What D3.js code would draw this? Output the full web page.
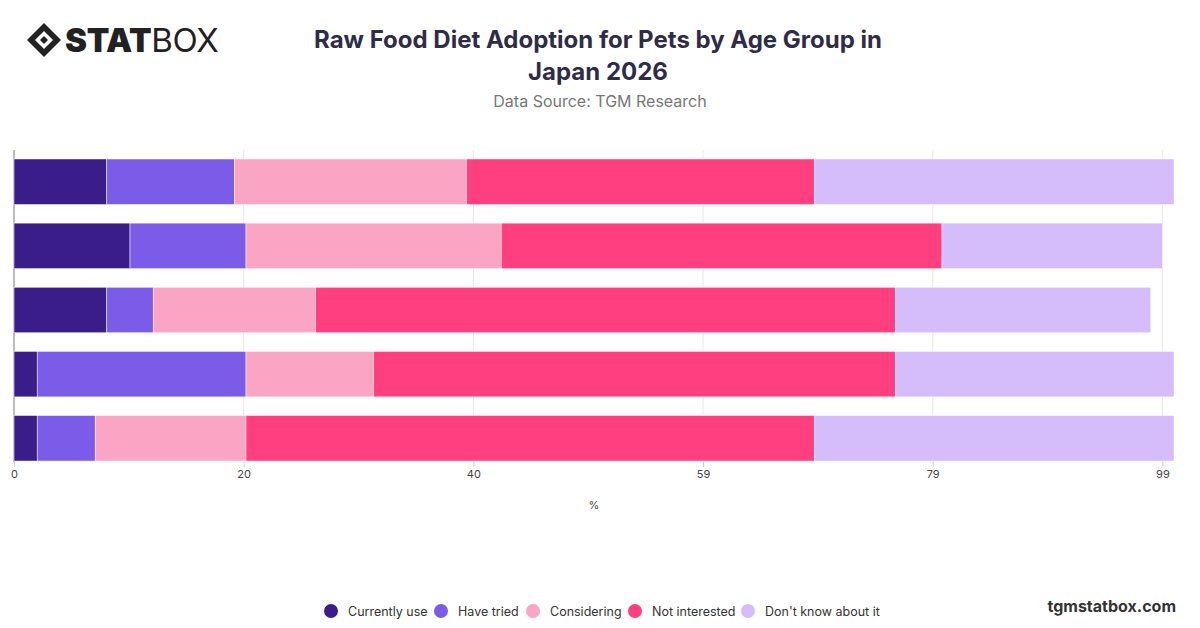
<!DOCTYPE html>
<html><head><meta charset="utf-8">
<script src="https://cdn.jsdelivr.net/npm/d3@7"></script>
<style>body{margin:0;background:#fff;font-family:Inter,"Noto Sans",sans-serif}</style>
</head><body><svg id="c" width="1200" height="628"></svg>
<script>
const categories = ["18-24","25-34","35-44","45-54","55+"];
const seriesNames = ["Currently use","Have tried","Considering","Not interested","Don't know about it"];
const currentlyUse   = [8,10,8,2,2];
const haveTried      = [11,10,4,18,5];
const considering    = [20,22,14,11,13];
const notInterested  = [30,38,50,45,49];
const dontKnow       = [31,19,22,24,31];
const tickValues = [0,19.8,39.6,59.4,79.2,99];
const colors = ["#3b1d8a","#7b5ce9","#fba5c5","#ff3f80","#d5bcfb"];

const svg = d3.select("#c");
const rows = categories.map((c,i)=>({cat:c,v:[currentlyUse[i],haveTried[i],considering[i],notInterested[i],dontKnow[i]]}));
const x = d3.scaleLinear().domain([0,100]).range([14,1174]);
const y = d3.scaleBand().domain(categories).range([150,470]).paddingInner(0.29).paddingOuter(0.14);

svg.append("g").selectAll("line").data(tickValues).join("line")
  .attr("x1",d=>x(d)).attr("x2",d=>x(d)).attr("y1",150).attr("y2",462)
  .attr("stroke","#e6e6e6");
svg.append("line").attr("x1",14).attr("x2",14).attr("y1",150).attr("y2",462).attr("stroke","#888");

rows.forEach(r=>{
  let acc=0;
  r.v.forEach((v,j)=>{
    svg.append("rect").attr("x",x(acc)).attr("width",x(acc+v)-x(acc))
      .attr("y",y(r.cat)).attr("height",y.bandwidth()).attr("fill",colors[j])
      .attr("stroke","#fff").attr("stroke-width",0.5);
    acc+=v;
  });
});

const ax = svg.append("g").attr("transform","translate(0,462)")
  .call(d3.axisBottom(x).tickValues(tickValues).tickFormat(d=>Math.round(d)).tickSize(5));
ax.select(".domain").remove();
ax.selectAll("line").attr("stroke","#ccc");
ax.selectAll("text").attr("fill","#444").attr("font-size",11).attr("font-family","Inter, sans-serif");
svg.append("text").attr("x",594).attr("y",509).attr("text-anchor","middle").attr("font-size",11).attr("fill","#444").text("%");

svg.append("text").attr("x",598).attr("y",48).attr("text-anchor","middle").attr("font-size",24).attr("font-weight",700).attr("fill","#2f2c46").text("Raw Food Diet Adoption for Pets by Age Group in");
svg.append("text").attr("x",598).attr("y",80).attr("text-anchor","middle").attr("font-size",24).attr("font-weight",700).attr("fill","#2f2c46").text("Japan 2026");
svg.append("text").attr("x",600).attr("y",107).attr("text-anchor","middle").attr("font-size",16).attr("fill","#777").text("Data Source: TGM Research");

const lg = svg.append("g").attr("transform","translate(44,40)");
lg.append("path").attr("d","M0,-17 L17,0 L0,17 L-17,0 Z").attr("fill","#222");
lg.append("path").attr("d","M0,-9 L9,0 L0,9 L-9,0 Z").attr("fill","#fff");
lg.append("path").attr("d","M0,-4 L4,0 L0,4 L-4,0 Z").attr("fill","#222");
svg.append("text").attr("x",65).attr("y",52).attr("font-size",33).attr("font-weight",900).attr("fill","#222").attr("letter-spacing",-0.3).text("STAT")
  .append("tspan").attr("font-weight",400).text("BOX");

const lx=[331,441,533,635,748];
seriesNames.forEach((n,i)=>{
  svg.append("circle").attr("cx",lx[i]).attr("cy",611).attr("r",7).attr("fill",colors[i]);
  svg.append("text").attr("x",lx[i]+17).attr("y",616).attr("font-size",12.5).attr("fill","#333").text(n);
});
svg.append("text").attr("x",1176).attr("y",612).attr("text-anchor","end").attr("font-size",16).attr("font-weight",700).attr("fill","#333").text("tgmstatbox.com");
</script></body></html>
